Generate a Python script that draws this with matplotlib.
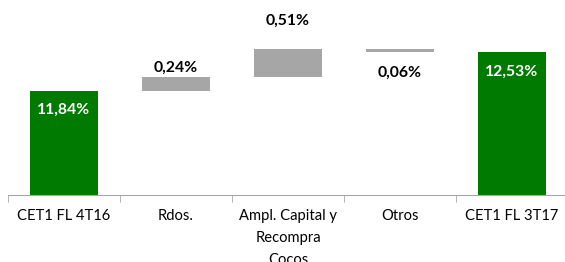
import matplotlib
matplotlib.use("Agg")
import matplotlib.pyplot as plt

plt.rcParams['font.family'] = ['Lato', 'DejaVu Sans']

# datos
categorias = ['CET1 FL 4T16', 'Rdos.', 'Ampl. Capital y\nRecompra\nCocos', 'Otros', 'CET1 FL 3T17']
valores = [11.84, 0.24, 0.51, -0.06, 12.53]
etiquetas = ['11,84%', '0,24%', '0,51%', '0,06%', '12,53%']
es_total = [True, False, False, False, True]

verde = '#007A00'
gris = '#A6A6A6'
ymin = 10.0

fig = plt.figure(figsize=(5.65, 2.62), dpi=100)
ax = fig.add_axes([8 / 565, 67 / 262, 560 / 565, 195 / 262])

# calcular bases de la cascada
acum = 0
bases, alturas = [], []
for v, t in zip(valores, es_total):
    if t:
        bases.append(ymin)
        alturas.append(v - ymin)
        acum = v
    else:
        bases.append(min(acum, acum + v))
        alturas.append(abs(v))
        acum += v

x = range(len(categorias))
colores = [verde if t else gris for t in es_total]
ax.bar(x, alturas, bottom=bases, width=0.6, color=colores)

# etiquetas de valores (desplazamiento en pixeles)
offsets = [-19, 10, 28, -21, -20]
for i in x:
    top = bases[i] + alturas[i]
    color = 'white' if es_total[i] else 'black'
    ref = bases[i] if valores[i] < 0 else top
    ax.annotate(etiquetas[i], (i, ref), xytext=(0, offsets[i]), textcoords='offset pixels',
                ha='center', va='center', color=color, fontsize=11.3, fontweight='bold')

ax.set_xlim(-0.5, len(categorias) - 0.5)
ax.set_ylim(ymin, 13.45)

for s in ['top', 'right', 'left']:
    ax.spines[s].set_visible(False)
ax.spines['bottom'].set_color(gris)
ax.set_yticks([])

ax.set_xticks(list(x))
ax.set_xticklabels(categorias, fontsize=10.6, linespacing=1.72, va='top')
ax.tick_params(axis='x', which='major', length=0, pad=10)
ax.set_xticks([i - 0.5 for i in range(len(categorias) + 1)], minor=True)
ax.tick_params(axis='x', which='minor', length=5, color=gris, direction='out')

fig.savefig('out.png', dpi=100)
